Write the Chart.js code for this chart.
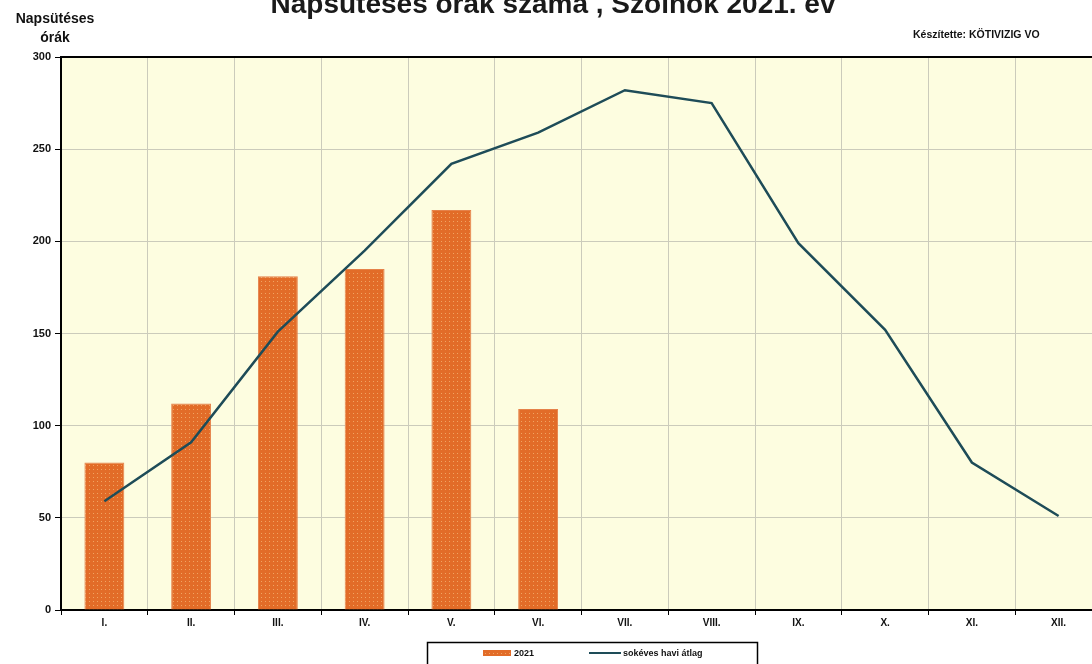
<!DOCTYPE html>
<html>
<head>
<meta charset="utf-8">
<script src="https://cdn.jsdelivr.net/npm/chart.js@4.4.1/dist/chart.umd.min.js"></script>
<style>
  html, body { margin: 0; padding: 0; background: #ffffff; overflow: hidden; width: 1092px; height: 664px; }
  #wrap { position: absolute; left: 0; top: 0; width: 1110px; height: 664px; }
</style>
</head>
<body>
<div id="wrap"><canvas id="c" width="1110" height="664"></canvas></div>
<script>
// ---- data ----
const months = ["I.", "II.", "III.", "IV.", "V.", "VI.", "VII.", "VIII.", "IX.", "X.", "XI.", "XII."];
const sunshine2021 = [80, 112, 181, 185, 217, 109, null, null, null, null, null, null];
const longTermAvg = [59, 91, 151, 195, 242, 259, 282, 275, 199, 152, 80, 51];
const yTicks = [0, 50, 100, 150, 200, 250, 300];
const seriesLabels = ["2021", "sokéves havi átlag"];
const titleText = "Napsütéses órák száma , Szolnok 2021. év";
const yTitleLines = ["Napsütéses", "órák"];
const creditText = "Készítette: KÖTIVIZIG VO";

// dotted orange pattern for bars
function makePattern() {
  const p = document.createElement('canvas');
  p.width = 4; p.height = 4;
  const g = p.getContext('2d');
  g.fillStyle = '#E26C28';
  g.fillRect(0, 0, 4, 4);
  g.fillStyle = '#F0A462';
  g.fillRect(1, 1, 1, 1);
  return g.createPattern(p, 'repeat');
}
const barFill = makePattern();
const lineColor = '#1E4C58';

const decor = {
  id: 'decor',
  beforeDraw(chart) {
    const { ctx, chartArea: a } = chart;
    ctx.save();
    ctx.fillStyle = '#FDFDE0';
    ctx.fillRect(a.left, a.top, a.right - a.left, a.bottom - a.top);
    ctx.restore();
  },
  afterDraw(chart) {
    const { ctx, chartArea: a } = chart;
    ctx.save();
    // top border
    ctx.strokeStyle = '#000';
    ctx.lineWidth = 2;
    ctx.beginPath();
    ctx.moveTo(a.left, a.top);
    ctx.lineTo(a.right, a.top);
    ctx.stroke();
    // title (cut at top as in reference)
    ctx.fillStyle = '#1a1a1a';
    ctx.font = 'bold 28px "Liberation Sans", Arial, sans-serif';
    ctx.textAlign = 'center';
    ctx.textBaseline = 'alphabetic';
    ctx.fillText(titleText, 553, 13);
    // y axis title
    ctx.fillStyle = '#111';
    ctx.font = 'bold 14px "Liberation Sans", Arial, sans-serif';
    ctx.fillText(yTitleLines[0], 55, 23);
    ctx.fillText(yTitleLines[1], 55, 42);
    // credit
    ctx.font = 'bold 10.5px "Liberation Sans", Arial, sans-serif';
    ctx.textAlign = 'left';
    ctx.fillText(creditText, 913, 38);
    // legend box
    ctx.strokeStyle = '#000';
    ctx.lineWidth = 1.5;
    ctx.strokeRect(427.5, 642.5, 330, 30);
    const ly = 653;
    ctx.fillStyle = barFill;
    ctx.fillRect(483, ly - 3, 28, 6);
    ctx.fillStyle = '#111';
    ctx.font = 'bold 9px "Liberation Sans", Arial, sans-serif';
    ctx.textBaseline = 'middle';
    ctx.fillText(seriesLabels[0], 514, ly + 1);
    ctx.strokeStyle = lineColor;
    ctx.lineWidth = 2;
    ctx.beginPath();
    ctx.moveTo(589, ly);
    ctx.lineTo(621, ly);
    ctx.stroke();
    ctx.fillStyle = '#111';
    ctx.fillText(seriesLabels[1], 623, ly + 1);
    ctx.restore();
  }
};

new Chart(document.getElementById('c'), {
  data: {
    labels: months,
    datasets: [
      {
        type: 'line',
        label: seriesLabels[1],
        data: longTermAvg,
        borderColor: lineColor,
        borderWidth: 2.5,
        pointRadius: 0,
        tension: 0,
        order: 0
      },
      {
        type: 'bar',
        label: seriesLabels[0],
        data: sunshine2021,
        backgroundColor: barFill,
        borderColor: '#E5824A',
        borderWidth: 1,
        barPercentage: 0.46,
        categoryPercentage: 1.0,
        order: 1
      }
    ]
  },
  options: {
    responsive: false,
    animation: false,
    layout: { padding: { top: 57, left: 0, right: 8, bottom: 0 } },
    plugins: {
      legend: { display: false },
      title: { display: false },
      tooltip: { enabled: false }
    },
    scales: {
      x: {
        type: 'category',
        offset: true,
        afterFit(s) { s.height = 54; },
        grid: {
          offset: true,
          color: '#CBCBBB',
          lineWidth: 1,
          tickColor: '#000',
          tickLength: 5,
          drawOnChartArea: true
        },
        border: { color: '#000', width: 2 },
        ticks: {
          color: '#111',
          font: { family: '"Liberation Sans", Arial, sans-serif', size: 10, weight: 'bold' },
          padding: 2,
          maxRotation: 0
        }
      },
      y: {
        min: 0,
        max: 300,
        afterFit(s) { s.width = 61; },
        afterBuildTicks(s) { s.ticks = yTicks.map(v => ({ value: v })); },
        grid: {
          color: '#CBCBBB',
          lineWidth: 1,
          tickColor: '#000',
          tickLength: 6
        },
        border: { color: '#000', width: 2 },
        ticks: {
          color: '#111',
          font: { family: '"Liberation Sans", Arial, sans-serif', size: 11, weight: 'bold' },
          padding: 4
        }
      }
    }
  },
  plugins: [decor]
});
</script>
</body>
</html>
